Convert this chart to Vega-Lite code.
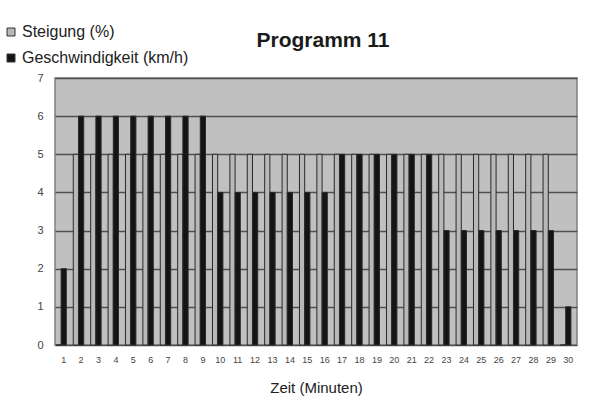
{
  "$schema": "https://vega.github.io/schema/vega-lite/v6.json",
  "width": 522,
  "height": 267,
  "autosize": {"type": "none"},
  "padding": {"left": 55, "top": 78, "right": 19, "bottom": 72},
  "background": "white",
  "title": {
    "text": "Programm 11",
    "fontSize": 21,
    "fontWeight": "bold",
    "font": "Liberation Sans",
    "color": "#1a1a1a",
    "anchor": "middle",
    "dx": 7,
    "offset": -27
  },
  "data": {
    "values": [
      {"minute": 1, "Steigung": 0, "Geschwindigkeit": 2},
      {"minute": 2, "Steigung": 5, "Geschwindigkeit": 6},
      {"minute": 3, "Steigung": 5, "Geschwindigkeit": 6},
      {"minute": 4, "Steigung": 5, "Geschwindigkeit": 6},
      {"minute": 5, "Steigung": 5, "Geschwindigkeit": 6},
      {"minute": 6, "Steigung": 5, "Geschwindigkeit": 6},
      {"minute": 7, "Steigung": 5, "Geschwindigkeit": 6},
      {"minute": 8, "Steigung": 5, "Geschwindigkeit": 6},
      {"minute": 9, "Steigung": 5, "Geschwindigkeit": 6},
      {"minute": 10, "Steigung": 5, "Geschwindigkeit": 4},
      {"minute": 11, "Steigung": 5, "Geschwindigkeit": 4},
      {"minute": 12, "Steigung": 5, "Geschwindigkeit": 4},
      {"minute": 13, "Steigung": 5, "Geschwindigkeit": 4},
      {"minute": 14, "Steigung": 5, "Geschwindigkeit": 4},
      {"minute": 15, "Steigung": 5, "Geschwindigkeit": 4},
      {"minute": 16, "Steigung": 5, "Geschwindigkeit": 4},
      {"minute": 17, "Steigung": 5, "Geschwindigkeit": 5},
      {"minute": 18, "Steigung": 5, "Geschwindigkeit": 5},
      {"minute": 19, "Steigung": 5, "Geschwindigkeit": 5},
      {"minute": 20, "Steigung": 5, "Geschwindigkeit": 5},
      {"minute": 21, "Steigung": 5, "Geschwindigkeit": 5},
      {"minute": 22, "Steigung": 5, "Geschwindigkeit": 5},
      {"minute": 23, "Steigung": 5, "Geschwindigkeit": 3},
      {"minute": 24, "Steigung": 5, "Geschwindigkeit": 3},
      {"minute": 25, "Steigung": 5, "Geschwindigkeit": 3},
      {"minute": 26, "Steigung": 5, "Geschwindigkeit": 3},
      {"minute": 27, "Steigung": 5, "Geschwindigkeit": 3},
      {"minute": 28, "Steigung": 5, "Geschwindigkeit": 3},
      {"minute": 29, "Steigung": 5, "Geschwindigkeit": 3},
      {"minute": 30, "Steigung": 0, "Geschwindigkeit": 1}
    ]
  },
  "transform": [
    {"fold": ["Steigung", "Geschwindigkeit"], "as": ["key", "value"]},
    {"lookup": "key", "from": {"data": {"values": [
      {"key": "Steigung", "serie": "Steigung (%)"},
      {"key": "Geschwindigkeit", "serie": "Geschwindigkeit (km/h)"}
    ]}, "key": "key", "fields": ["serie"]}}
  ],
  "encoding": {
    "x": {
      "field": "minute",
      "type": "ordinal",
      "title": "Zeit (Minuten)",
      "scale": {"paddingInner": 0.1, "paddingOuter": 0.05},
      "axis": {
        "labelAngle": 0,
        "labelFontSize": 9,
        "labelColor": "#444",
        "labelPadding": 10,
        "ticks": false,
        "domain": false,
        "titleFontSize": 15,
        "titleFontWeight": "normal",
        "titleColor": "#222",
        "titlePadding": 16
      }
    },
    "xOffset": {
      "field": "serie",
      "type": "nominal",
      "scale": {"domain": ["Steigung (%)", "Geschwindigkeit (km/h)", "leer"]}
    },
    "y": {
      "field": "value",
      "type": "quantitative",
      "title": null,
      "scale": {"domain": [0, 7], "nice": false},
      "axis": {
        "values": [0, 1, 2, 3, 4, 5, 6, 7],
        "labelFontSize": 11,
        "labelColor": "#444",
        "labelPadding": 12,
        "ticks": false,
        "domain": false,
        "gridColor": "#505050",
        "gridWidth": 1.3
      }
    },
    "color": {
      "field": "serie",
      "type": "nominal",
      "scale": {
        "domain": ["Steigung (%)", "Geschwindigkeit (km/h)"],
        "range": ["#b8b8b8", "#141414"]
      },
      "legend": {
        "title": null,
        "orient": "none",
        "legendX": -52,
        "legendY": -54,
        "symbolType": "square",
        "symbolSize": 64,
        "symbolStrokeColor": "#333",
        "symbolStrokeWidth": 1,
        "labelFontSize": 16,
        "labelColor": "#222",
        "labelOffset": 3,
        "labelLimit": 300,
        "rowPadding": 10
      }
    }
  },
  "mark": {"type": "bar", "stroke": "#2a2a2a", "strokeWidth": 1},
  "config": {
    "font": "Liberation Sans",
    "view": {"fill": "#c0c0c0", "stroke": "#808080", "strokeWidth": 1.5}
  }
}
